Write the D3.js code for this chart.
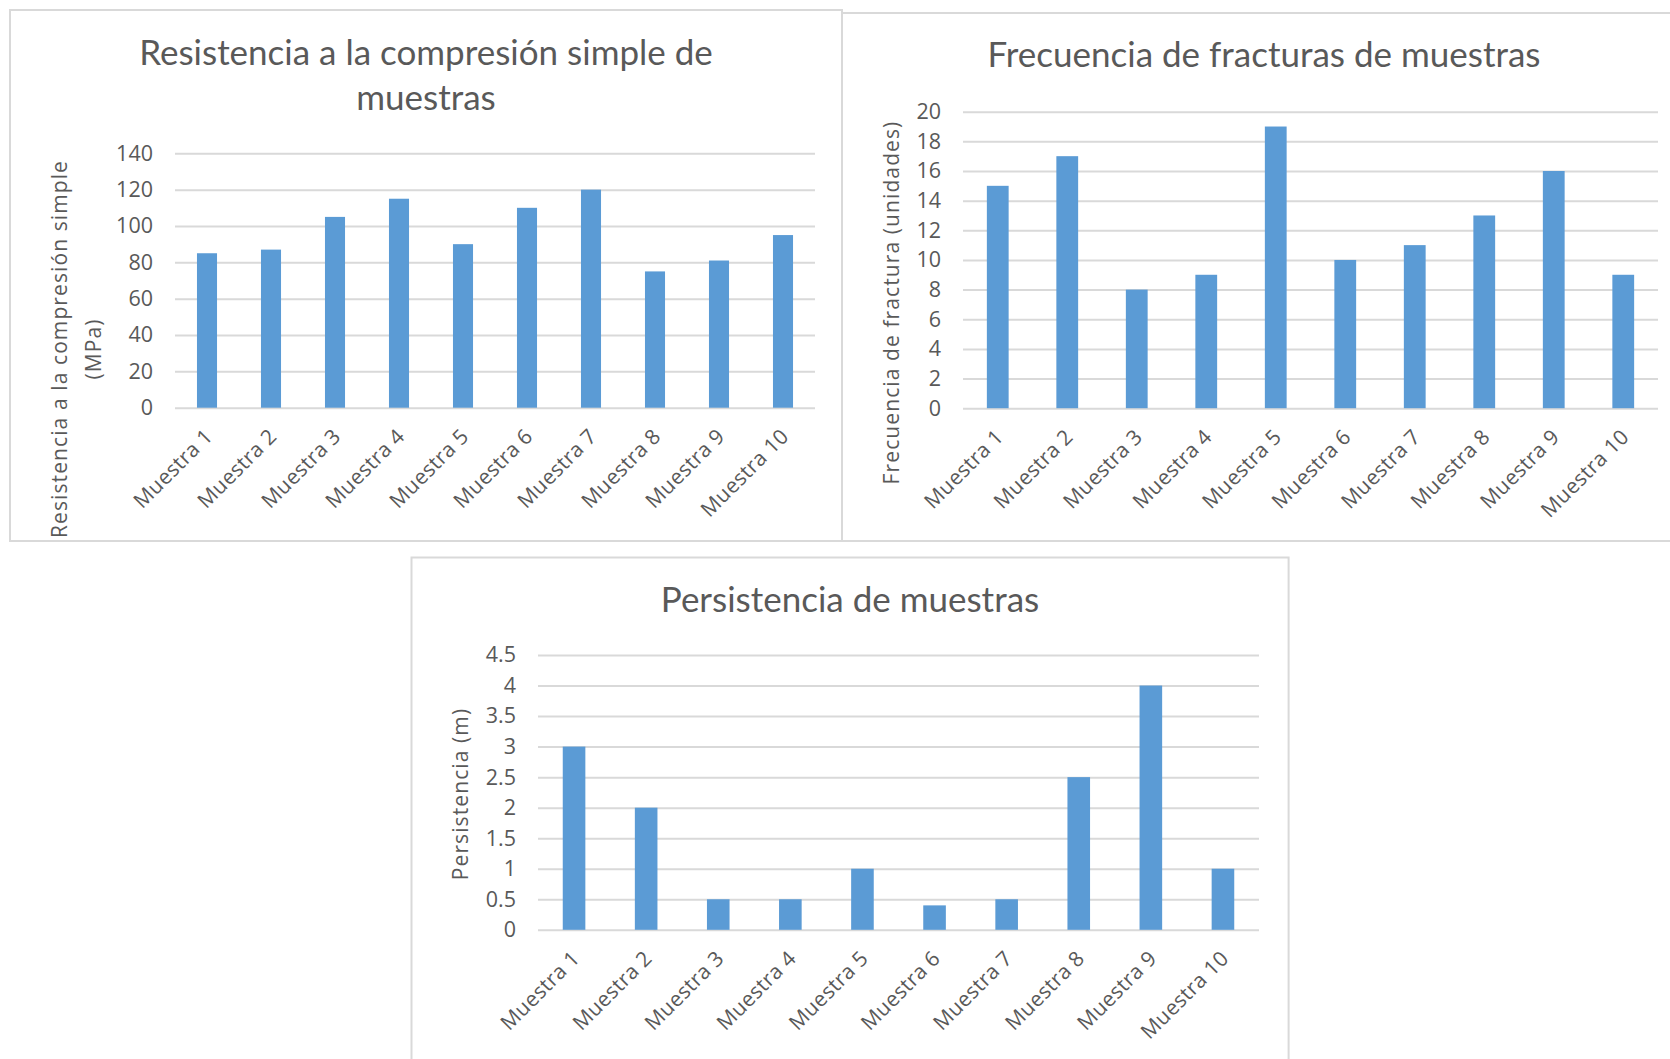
<!DOCTYPE html>
<html>
<head>
<meta charset="utf-8">
<script src="https://cdn.jsdelivr.net/npm/d3@7"></script>
<style>
  html, body { margin: 0; padding: 0; background: #ffffff; }
  svg { display: block; }
</style>
</head>
<body>
<svg id="chart" width="1670" height="1059"></svg>
<script>
// ---------------- DATA ----------------
const categories = ["Muestra 1", "Muestra 2", "Muestra 3", "Muestra 4", "Muestra 5",
                    "Muestra 6", "Muestra 7", "Muestra 8", "Muestra 9", "Muestra 10"];

const resistenciaValues = [85, 87, 105, 115, 90, 110, 120, 75, 81, 95];
const fracturasValues = [15, 17, 8, 9, 19, 10, 11, 13, 16, 9];
const persistenciaValues = [3, 2, 0.5, 0.5, 1, 0.4, 0.5, 2.5, 4, 1];

const resistenciaTicks = [0, 20, 40, 60, 80, 100, 120, 140];
const fracturasTicks = [0, 2, 4, 6, 8, 10, 12, 14, 16, 18, 20];
const persistenciaTicks = [0, 0.5, 1, 1.5, 2, 2.5, 3, 3.5, 4, 4.5];

const resistenciaTitle = ["Resistencia a la compresión simple de", "muestras"];
const fracturasTitle = ["Frecuencia de fracturas de muestras"];
const persistenciaTitle = ["Persistencia de muestras"];

const resistenciaAxisTitle = ["Resistencia a la compresión simple", "(MPa)"];
const fracturasAxisTitle = ["Frecuencia de fractura (unidades)"];
const persistenciaAxisTitle = ["Persistencia (m)"];

// ---------------- STYLE ----------------
const BAR = "#5b9bd5";
const GRID = "#d9d9d9";
const TEXT = "#595959";
const TITLE_FONT = "Lato, 'Open Sans', sans-serif";
const LABEL_FONT = "'Open Sans', 'Noto Sans', sans-serif";

const svg = d3.select("#chart");

function drawChart(cfg) {
  const g = svg.append("g");

  // frame
  g.append("rect")
    .attr("x", cfg.frame[0]).attr("y", cfg.frame[1])
    .attr("width", cfg.frame[2] - cfg.frame[0])
    .attr("height", cfg.frame[3] - cfg.frame[1])
    .attr("fill", "#ffffff")
    .attr("stroke", GRID)
    .attr("stroke-width", 2);

  const x = d3.scaleBand()
    .domain(categories)
    .range([cfg.plot.left, cfg.plot.right])
    .paddingInner(0.6865)
    .paddingOuter(0.34325);

  const y = d3.scaleLinear()
    .domain([0, d3.max(cfg.ticks)])
    .range([cfg.plot.bottom, cfg.plot.top]);

  // gridlines + y tick labels
  const yAxis = d3.axisLeft(y)
    .tickValues(cfg.ticks)
    .tickFormat(d => String(d))
    .tickSize(-(cfg.plot.right - cfg.plot.left))
    .tickPadding(22);

  const yg = g.append("g")
    .attr("transform", `translate(${cfg.plot.left},0)`)
    .call(yAxis);
  yg.select(".domain").remove();
  yg.selectAll(".tick line")
    .attr("stroke", GRID)
    .attr("stroke-width", 2);
  yg.selectAll(".tick text")
    .attr("fill", TEXT)
    .style("font-family", LABEL_FONT)
    .style("font-size", "21.5px");

  // bars
  g.append("g").selectAll("rect")
    .data(cfg.values)
    .join("rect")
    .attr("x", (d, i) => x(categories[i]))
    .attr("width", x.bandwidth())
    .attr("y", d => y(d))
    .attr("height", d => y(0) - y(d))
    .attr("fill", BAR);

  // x axis labels
  const xAxis = d3.axisBottom(x).tickSize(0).tickPadding(0);
  const xg = g.append("g")
    .attr("transform", `translate(0,${cfg.plot.bottom})`)
    .call(xAxis);
  xg.select(".domain").remove();
  xg.selectAll(".tick text")
    .attr("y", 0)
    .attr("dy", 0)
    .attr("text-anchor", "end")
    .attr("transform", "translate(7,30) rotate(-45)")
    .attr("fill", TEXT)
    .style("font-family", LABEL_FONT)
    .style("font-size", "21px")
    .style("letter-spacing", "0.3px");

  // chart title
  g.append("text")
    .attr("x", cfg.titlePos[0])
    .attr("y", cfg.titlePos[1])
    .attr("text-anchor", "middle")
    .attr("fill", TEXT)
    .style("font-family", TITLE_FONT)
    .style("font-size", "35px")
    .selectAll("tspan")
    .data(cfg.title)
    .join("tspan")
    .attr("x", cfg.titlePos[0])
    .attr("dy", (d, i) => i === 0 ? 0 : cfg.titleLineGap)
    .text(d => d);

  // axis title (rotated)
  const at = g.append("text")
    .attr("transform", `translate(${cfg.axisTitlePos[0]},${cfg.axisTitlePos[1]}) rotate(-90)`)
    .attr("text-anchor", "middle")
    .attr("fill", TEXT)
    .style("font-family", LABEL_FONT)
    .style("font-size", "21px")
    .style("letter-spacing", "1.1px");
  at.selectAll("tspan")
    .data(cfg.axisTitle)
    .join("tspan")
    .attr("x", 0)
    .attr("dy", (d, i) => i === 0 ? 0 : 34)
    .text(d => d);
}

drawChart({
  frame: [10, 10, 842, 541],
  plot: { left: 175, right: 815, top: 153.3, bottom: 407.7 },
  values: resistenciaValues,
  ticks: resistenciaTicks,
  title: resistenciaTitle,
  titlePos: [426, 65],
  titleLineGap: 44.5,
  axisTitle: resistenciaAxisTitle,
  axisTitlePos: [66.5, 349]
});

drawChart({
  frame: [842, 13, 1690, 541],
  plot: { left: 963, right: 1658, top: 111.7, bottom: 408.2 },
  values: fracturasValues,
  ticks: fracturasTicks,
  title: fracturasTitle,
  titlePos: [1264, 67.3],
  titleLineGap: 44.5,
  axisTitle: fracturasAxisTitle,
  axisTitlePos: [898.5, 302.5]
});

drawChart({
  frame: [411.5, 557.5, 1288.6, 1080],
  plot: { left: 538, right: 1259, top: 655, bottom: 929.8 },
  values: persistenciaValues,
  ticks: persistenciaTicks,
  title: persistenciaTitle,
  titlePos: [850, 611.7],
  titleLineGap: 44.5,
  axisTitle: persistenciaAxisTitle,
  axisTitlePos: [468.4, 794]
});
</script>
</body>
</html>
